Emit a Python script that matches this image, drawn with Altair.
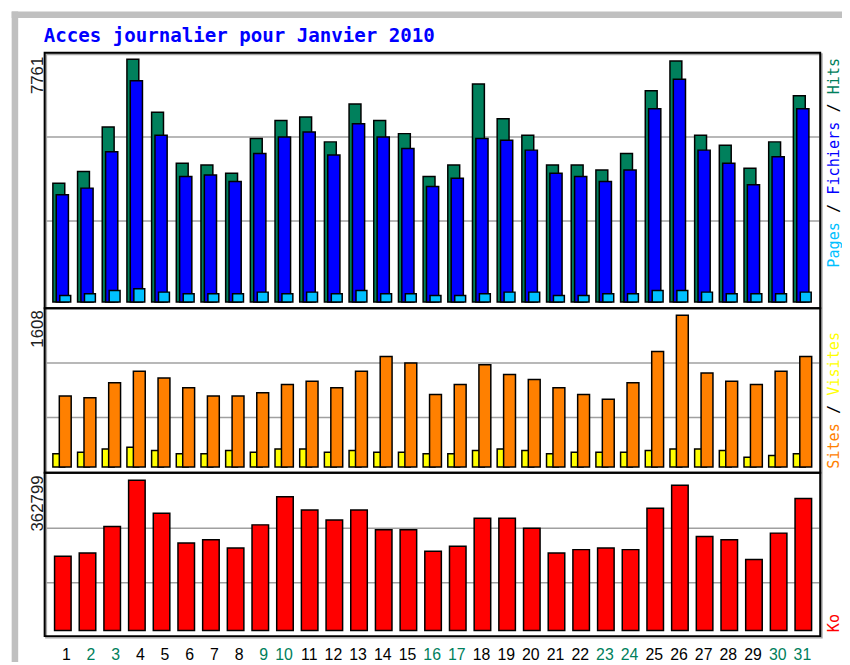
import altair as alt
import pandas as pd

# ---------------- data ----------------
title_text = "Acces journalier pour Janvier 2010"
days = list(range(1, 32))
weekend_days = [2, 3, 9, 10, 16, 17, 23, 24, 30, 31]
hits = [3802, 4171, 5597, 7761, 6072, 4435, 4382, 4118, 5227, 5808, 5914,
        5122, 6336, 5808, 5386, 4013, 4382, 6970, 5861, 5333, 4382, 4382,
        4224, 4752, 6758, 7709, 5333, 5016, 4277, 5122, 6600]
files = [3432, 3643, 4805, 7075, 5333, 4013, 4066, 3854, 4752, 5280, 5438,
         4699, 5702, 5280, 4910, 3696, 3960, 5227, 5174, 4858, 4118, 4013,
         3854, 4224, 6178, 7128, 4858, 4435, 3749, 4646, 6178]
pages = [211, 264, 370, 422, 317, 264, 264, 264, 317, 264, 317,
         264, 370, 264, 264, 211, 211, 264, 317, 317, 211, 211,
         264, 264, 370, 370, 317, 264, 264, 264, 317]
visits = [140, 157, 192, 210, 175, 140, 140, 175, 157, 192, 192,
          157, 175, 157, 157, 140, 140, 175, 192, 175, 140, 157,
          157, 157, 175, 192, 192, 175, 105, 122, 140]
sites = [752, 734, 892, 1014, 944, 839, 752, 752, 787, 874, 909,
         839, 1014, 1171, 1102, 769, 874, 1084, 979, 927, 839, 769,
         717, 892, 1224, 1608, 997, 909, 874, 1014, 1171]
kbytes = [179415, 187389, 251181, 362799, 283077, 211311, 219285, 199350,
          255168, 322947, 291051, 267129, 291051, 243207, 243207, 191376,
          203337, 271116, 271116, 247194, 187389, 195363, 199350, 195363,
          295038, 350856, 227259, 219285, 171441, 235233, 318960]

C_HITS, C_FILES, C_PAGES = "#00805c", "#0000ff", "#00c0ff"
C_VISITS, C_SITES, C_KB = "#ffff00", "#ff8000", "#ff0000"

df = pd.DataFrame({
    "day": days, "label": [str(d) for d in days],
    "weekend": [d in weekend_days for d in days],
    "hits": hits, "files": files, "pages": pages,
    "visits": visits, "sites": sites, "kbytes": kbytes,
})

W, H = 842, 657
SLOT = 24.92
X0 = 45.3
xscale = alt.Scale(domain=[1, 31], range=[X0, X0 + 30 * SLOT], nice=False, zero=False)
ys1 = alt.Scale(domain=[0, max(hits)], range=[293.7, 48.7], nice=False, zero=True)
ys2 = alt.Scale(domain=[0, max(sites)], range=[460.3, 307], nice=False, zero=True)
ys3 = alt.Scale(domain=[0, max(kbytes)], range=[625.3, 473.7], nice=False, zero=True)


def bars(field, color, yscale, off, w):
    return alt.Chart(df).mark_rect(
        fill=color, stroke="black", strokeWidth=1.5, xOffset=off, x2Offset=off + w
    ).encode(
        x=alt.X("day:Q", scale=xscale, axis=None),
        x2=alt.X2("day"),
        y=alt.Y(f"{field}:Q", scale=yscale, axis=None),
        y2=alt.datum(0),
    )


def box(x1, x2, y1, y2, color, sw):
    return alt.Chart(pd.DataFrame({"k": [0]})).mark_rect(
        fillOpacity=0, stroke=color, strokeWidth=sw
    ).encode(x=alt.value(x1), x2=alt.value(x2), y=alt.value(y1), y2=alt.value(y2))


def band(x1, x2, y1, y2, color):
    return alt.Chart(pd.DataFrame({"k": [0]})).mark_rect(fill=color).encode(
        x=alt.value(x1), x2=alt.value(x2), y=alt.value(y1), y2=alt.value(y2))


def grid(y):
    return alt.Chart(pd.DataFrame({"k": [0]})).mark_rule(
        color="#a0a0a0", strokeWidth=1.5
    ).encode(x=alt.value(38), x2=alt.value(819), y=alt.value(y))


def vtext(txt, color, x, y, size=15.3, font="DejaVu Sans Mono", align="left"):
    return alt.Chart(pd.DataFrame({"t": [txt]})).mark_text(
        angle=270, align=align, baseline="alphabetic", font=font,
        fontSize=size, color=color
    ).encode(x=alt.value(x), y=alt.value(y), text="t:N")


def legend(segments, x, y0, size=15.3):
    """segments laid end to end (monospace), reading upward from y0"""
    adv = 0.602 * size
    out, k = [], 0
    for txt, col in segments:
        lead = len(txt) - len(txt.lstrip(" "))
        out.append(vtext(txt.strip(" "), col, x, y0 - (k + lead) * adv, size))
        k += len(txt)
    return out


layers = [
    band(3.7, 10.3, 0.3, H, "#c0c0c0"),
    band(3.7, W, 0.3, 7, "#c0c0c0"),
    box(38.5, 821.5, 43.5, 632.5, "#a8a8a8", 2),
]
layers += [grid(y) for y in [127, 212, 355.3, 410.3, 522, 577]]
layers += [
    bars("hits", C_HITS, ys1, 0, 12),
    bars("files", C_FILES, ys1, 3.4, 12.3),
    bars("pages", C_PAGES, ys1, 7, 11),
    bars("visits", C_VISITS, ys2, 0, 12),
    bars("sites", C_SITES, ys2, 6.5, 12),
    bars("kbytes", C_KB, ys3, 1.7, 16.7),
    box(37, 820, 42, 300, "black", 2),
    box(37, 820, 300, 466, "black", 2),
    box(37, 820, 466, 631, "black", 2),
]

# day labels
layers.append(
    alt.Chart(df).mark_text(
        align="right", baseline="alphabetic", xOffset=18,
        font="Liberation Sans", fontSize=16
    ).encode(
        x=alt.X("day:Q", scale=xscale, axis=None),
        y=alt.value(655),
        text="label:N",
        color=alt.condition("datum.weekend", alt.value(C_HITS), alt.value("black")),
    )
)

# max labels (rotated)
for val, ytop in [(max(hits), 46), (max(sites), 302), (max(kbytes), 468.7)]:
    layers.append(vtext(str(val), "#202020", 35, ytop, size=17,
                        font="Liberation Sans", align="right"))

# right-side legends
LX = 838.5
layers += legend([("Pages", C_PAGES), (" / ", "black"), ("Fichiers", C_FILES),
                  (" / ", "black"), ("Hits", C_HITS)], LX, 259)
layers += legend([("Sites", C_SITES), (" / ", "black"), ("Visites", C_VISITS)], LX, 462)
layers += legend([("Ko", C_KB)], LX, 627)

# title
layers.append(
    alt.Chart(pd.DataFrame({"t": [title_text]})).mark_text(
        align="left", baseline="alphabetic", font="DejaVu Sans Mono",
        fontWeight="bold", fontSize=19.3, color="#0000ff"
    ).encode(x=alt.value(36), y=alt.value(31), text="t:N")
)

chart = alt.layer(*layers).resolve_scale(y="independent").properties(
    width=W, height=H, autosize=alt.AutoSizeParams(type="none"), padding=0,
    background="white",
).configure_view(stroke=None)

chart.save("out.html", embed_options={"renderer": "svg", "actions": False})
